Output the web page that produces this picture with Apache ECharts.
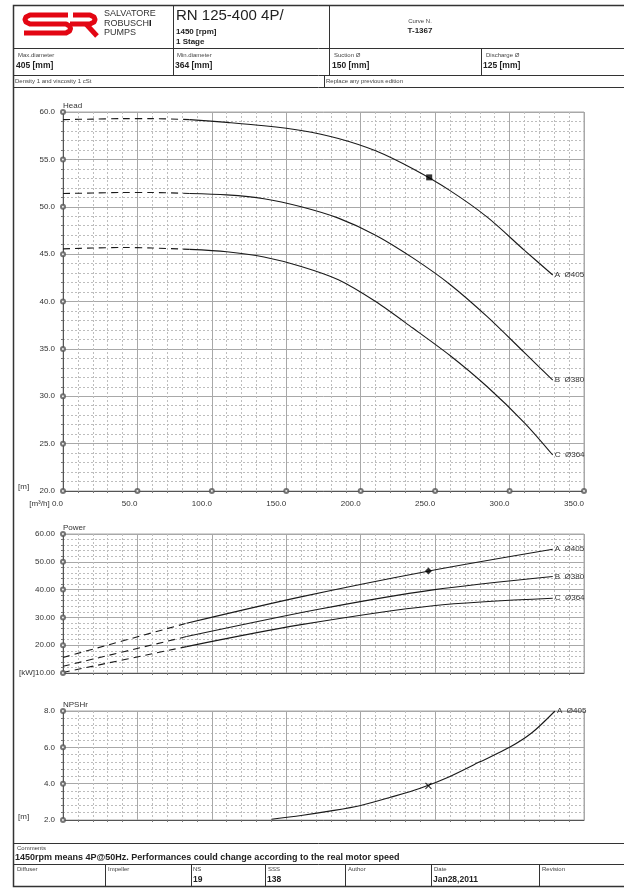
<!DOCTYPE html>
<html>
<head>
<meta charset="utf-8">
<script src="https://cdn.jsdelivr.net/npm/echarts@6/dist/echarts.min.js"></script>
<style>
  html, body { margin: 0; padding: 0; background: #fff; }
  #chart { width: 624px; height: 891px; }
</style>
</head>
<body>
<div id="chart"></div>
<script>
var FONT = '"Liberation Sans", Arial, sans-serif'

// axes
var qTicks = [0, 50, 100, 150, 200, 250, 300, 350]
var headTicks = [20, 25, 30, 35, 40, 45, 50, 55, 60]
var powerTicks = [10, 20, 30, 40, 50, 60]
var npshTicks = [2, 4, 6, 8]
var curveNames = ['A  Ø405', 'B  Ø380', 'C  Ø364']

// head [m] vs Q [m3/h]  (dash = extrapolated part)
var headDashA = [[0, 59.2], [20, 59.25], [40, 59.3], [60, 59.3], [85, 59.2]]
var headA = [[85, 59.2], [110, 58.9], [135, 58.55], [160, 58.05], [185, 57.2], [210, 55.9], [235, 54.0], [260, 51.7], [285, 48.9], [310, 45.4], [329, 42.8]]
var headDashB = [[0, 51.4], [20, 51.45], [40, 51.5], [60, 51.5], [85, 51.4]]
var headB = [[85, 51.4], [110, 51.25], [135, 50.85], [160, 50.0], [185, 48.8], [210, 47.0], [235, 44.6], [260, 41.8], [285, 38.4], [310, 34.6], [329, 31.7]]
var headDashC = [[0, 45.55], [20, 45.65], [40, 45.7], [60, 45.65], [85, 45.5]]
var headC = [[85, 45.5], [110, 45.25], [135, 44.7], [160, 43.7], [185, 42.3], [210, 40.0], [235, 37.2], [260, 34.3], [285, 31.0], [310, 27.2], [329, 23.8]]

// power [kW]
var powerDashA = [[0, 15.6], [83, 27.9]]
var powerA = [[83, 27.9], [159, 37.3], [246, 46.7], [329, 54.5]]
var powerDashB = [[0, 12.4], [83, 23.1]]
var powerB = [[83, 23.1], [172.6, 33.0], [248.6, 39.9], [329, 44.7]]
var powerDashC = [[0, 10.2], [83, 19.5]]
var powerC = [[83, 19.5], [159, 27.3], [248.6, 34.2], [329, 36.9]]

// NPSHr [m]
var npshA = [[140, 2.04], [160, 2.25], [180, 2.5], [200, 2.8], [220, 3.25], [240, 3.75], [260, 4.4], [280, 5.2], [300, 6.0], [315, 6.8], [330.5, 8.0]]

// duty point
var dutyHead = [246, 53.1]
var dutyPower = [245.5, 46.7]
var dutyNpsh = [245.5, 3.88]

var chart = echarts.init(document.getElementById('chart'))

function xAx(i, showLabel) {
  return {
    type: 'value', gridIndex: i, min: 0, max: 350, interval: 50,
    axisLine: { show: true, onZero: false, lineStyle: { color: '#555', width: 1 } },
    axisTick: { show: false },
    minorTick: { show: true, splitNumber: 5, length: 2, lineStyle: { color: '#777' } },
    axisLabel: {
      show: showLabel, align: 'right', margin: 9, fontSize: 8, color: '#333', fontFamily: FONT,
      formatter: function (v) { return v === 0 ? '[m³/h] 0.0' : v.toFixed(1) }
    },
    splitLine: { show: true, lineStyle: { color: '#a8a8a8', width: 1 } },
    minorSplitLine: { show: true, lineStyle: { color: '#bdbdbd', width: 1, type: [2, 2] } }
  }
}

function yAx(i, min, max, step, name, fmt) {
  return {
    type: 'value', gridIndex: i, min: min, max: max, interval: step,
    name: name, nameLocation: 'end', nameGap: 2,
    nameTextStyle: { align: 'left', fontSize: 8, color: '#333', fontFamily: FONT },
    axisLine: { show: true, onZero: false, lineStyle: { color: '#555', width: 1 } },
    axisTick: { show: false },
    minorTick: { show: true, splitNumber: 5, length: 2, lineStyle: { color: '#777' } },
    axisLabel: { margin: 8, fontSize: 8, color: '#333', fontFamily: FONT, padding: [0, 0, 4, 0], formatter: fmt },
    splitLine: { show: true, lineStyle: { color: '#a8a8a8', width: 1 } },
    minorSplitLine: { show: true, lineStyle: { color: '#bdbdbd', width: 1, type: [2, 2] } }
  }
}

function curve(i, data, dashed, label) {
  var s = {
    type: 'line', xAxisIndex: i, yAxisIndex: i, data: data, smooth: 0.3,
    showSymbol: false, silent: true, z: 4,
    lineStyle: { color: '#1a1a1a', width: 1.1, type: dashed ? [7, 5] : 'solid' }
  }
  if (label) {
    s.endLabel = { show: true, formatter: label, fontSize: 8, color: '#333', fontFamily: FONT, distance: 2 }
  }
  return s
}

function ticks(i, yTicks, yMin, withX) {
  var d = yTicks.map(function (v) { return [0, v] })
  if (withX) d = d.concat(qTicks.slice(1).map(function (q) { return [q, yMin] }))
  return {
    type: 'scatter', xAxisIndex: i, yAxisIndex: i, data: d, symbol: 'emptyCircle', symbolSize: 4,
    itemStyle: { color: '#555', borderWidth: 1 }, clip: false, silent: true, z: 5
  }
}

function marker(i, pt, sym, size, extra) {
  return {
    type: 'scatter', xAxisIndex: i, yAxisIndex: i, data: [pt], symbol: sym, symbolSize: size,
    itemStyle: extra || { color: '#000' }, silent: true, z: 6
  }
}

// header / footer frame
function ln(x1, y1, x2, y2, w) {
  return { type: 'line', shape: { x1: x1, y1: y1, x2: x2, y2: y2 }, style: { stroke: '#333', lineWidth: w || 1 }, z: 10 }
}
function txt(x, y, s, size, bold, align, color) {
  return {
    type: 'text', x: x, y: y, z: 10,
    style: {
      text: s, font: (bold ? 'bold ' : '') + size + 'px ' + FONT, fill: color || '#222',
      align: align || 'left', textAlign: align || 'left', verticalAlign: 'middle', textVerticalAlign: 'middle'
    }
  }
}

var graphics = [
  { type: 'rect', shape: { x: 13.5, y: 5.5, width: 640, height: 881 }, style: { fill: 'none', stroke: '#333', lineWidth: 1.5 }, z: 10 },
  ln(13, 48.5, 624, 48.5), ln(13, 75.5, 624, 75.5), ln(13, 87.5, 624, 87.5),
  ln(173.5, 5, 173.5, 76), ln(329.5, 5, 329.5, 76), ln(481.5, 48, 481.5, 76), ln(324.5, 76, 324.5, 88),
  ln(13, 843.5, 624, 843.5), ln(13, 864.5, 624, 864.5),
  ln(105.5, 864, 105.5, 887), ln(191.5, 864, 191.5, 887), ln(265.5, 864, 265.5, 887),
  ln(345.5, 864, 345.5, 887), ln(431.5, 864, 431.5, 887), ln(539.5, 864, 539.5, 887),
  // logo
  { type: 'polyline', shape: { points: [[68, 15], [30, 15], [26, 17], [25, 19.5], [26, 22], [30, 24], [66, 24], [69.5, 26], [70.5, 28.5], [69.5, 31], [66, 33], [24, 33]] },
    style: { stroke: '#e30613', lineWidth: 5, fill: null, lineJoin: 'round' }, z: 10 },
  { type: 'polyline', shape: { points: [[73, 15], [90, 15], [94, 17], [95, 19.5], [94, 22], [90, 24], [70, 24]] },
    style: { stroke: '#e30613', lineWidth: 5, fill: null, lineJoin: 'round' }, z: 10 },
  { type: 'polyline', shape: { points: [[86, 24], [97, 36]] }, style: { stroke: '#e30613', lineWidth: 5, fill: null }, z: 10 },
  txt(104, 14, 'SALVATORE', 9, false, 'left', '#333'),
  { type: 'text', x: 104, y: 23.5, z: 10, style: { text: '{a|ROBUSCH}{b|I}', verticalAlign: 'middle', textVerticalAlign: 'middle',
      rich: { a: { font: '9px ' + FONT, fill: '#333', color: '#333' }, b: { font: 'bold 9px ' + FONT, fill: '#000', color: '#000' } } } },
  txt(104, 33, 'PUMPS', 9, false, 'left', '#333'),
  txt(176, 16, 'RN 125-400 4P/', 15),
  txt(176, 32, '1450 [rpm]', 8, true),
  txt(176, 42, '1 Stage', 8, true),
  txt(420, 21, 'Curve N.', 6, false, 'center', '#444'),
  txt(420, 31, 'T-1367', 8, true, 'center'),
  txt(18, 55, 'Max.diameter', 6, false, 'left', '#444'), txt(16, 66, '405 [mm]', 8.5, true),
  txt(177, 55, 'Min.diameter', 6, false, 'left', '#444'), txt(175, 66, '364 [mm]', 8.5, true),
  txt(334, 55, 'Suction Ø', 6, false, 'left', '#444'), txt(332, 66, '150 [mm]', 8.5, true),
  txt(486, 55, 'Discharge Ø', 6, false, 'left', '#444'), txt(483, 66, '125 [mm]', 8.5, true),
  txt(15, 81.5, 'Density 1 and viscosity 1 cSt', 6, false, 'left', '#444'),
  txt(326, 81.5, 'Replace any previous edition', 6, false, 'left', '#444'),
  txt(18, 487, '[m]', 8, false, 'left', '#333'),
  txt(18, 817, '[m]', 8, false, 'left', '#333'),
  txt(17, 848, 'Comments', 6, false, 'left', '#444'),
  txt(15, 857.5, '1450rpm means 4P@50Hz. Performances could change according to the real motor speed', 9, true),
  txt(17, 869, 'Diffuser', 6, false, 'left', '#444'),
  txt(108, 869, 'Impeller', 6, false, 'left', '#444'),
  txt(193, 869, 'NS', 6, false, 'left', '#444'), txt(193, 880, '19', 8.5, true),
  txt(268, 869, 'SSS', 6, false, 'left', '#444'), txt(267, 880, '138', 8.5, true),
  txt(348, 869, 'Author', 6, false, 'left', '#444'),
  txt(434, 869, 'Date', 6, false, 'left', '#444'), txt(433, 880, 'Jan28,2011', 8.5, true),
  txt(542, 869, 'Revision', 6, false, 'left', '#444')
]

chart.setOption({
  animation: false,
  backgroundColor: '#fff',
  grid: [
    { left: 63, top: 112, width: 521, height: 379, show: true, borderColor: '#a8a8a8', borderWidth: 1 },
    { left: 63, top: 534, width: 521, height: 139, show: true, borderColor: '#a8a8a8', borderWidth: 1 },
    { left: 63, top: 711, width: 521, height: 109, show: true, borderColor: '#a8a8a8', borderWidth: 1 }
  ],
  xAxis: [xAx(0, true), xAx(1, false), xAx(2, false)],
  yAxis: [
    yAx(0, 20, 60, 5, 'Head', function (v) { return v.toFixed(1) }),
    yAx(1, 10, 60, 10, 'Power', function (v) { return v === 10 ? '[kW]10.00' : v.toFixed(2) }),
    yAx(2, 2, 8, 2, 'NPSHr', function (v) { return v.toFixed(1) })
  ],
  series: [
    curve(0, headDashA, true), curve(0, headA, false, curveNames[0]),
    curve(0, headDashB, true), curve(0, headB, false, curveNames[1]),
    curve(0, headDashC, true), curve(0, headC, false, curveNames[2]),
    curve(1, powerDashA, true), curve(1, powerA, false, curveNames[0]),
    curve(1, powerDashB, true), curve(1, powerB, false, curveNames[1]),
    curve(1, powerDashC, true), curve(1, powerC, false, curveNames[2]),
    curve(2, npshA, false, curveNames[0]),
    ticks(0, headTicks, 20, true), ticks(1, powerTicks, 10, false), ticks(2, npshTicks, 2, false),
    marker(0, dutyHead, 'rect', 6),
    marker(1, dutyPower, 'diamond', 7),
    marker(2, dutyNpsh, 'path://M0,0L10,10M10,0L0,10', 6, { color: 'none', borderColor: '#000', borderWidth: 1.2 })
  ],
  graphic: graphics
})
</script>
</body>
</html>
